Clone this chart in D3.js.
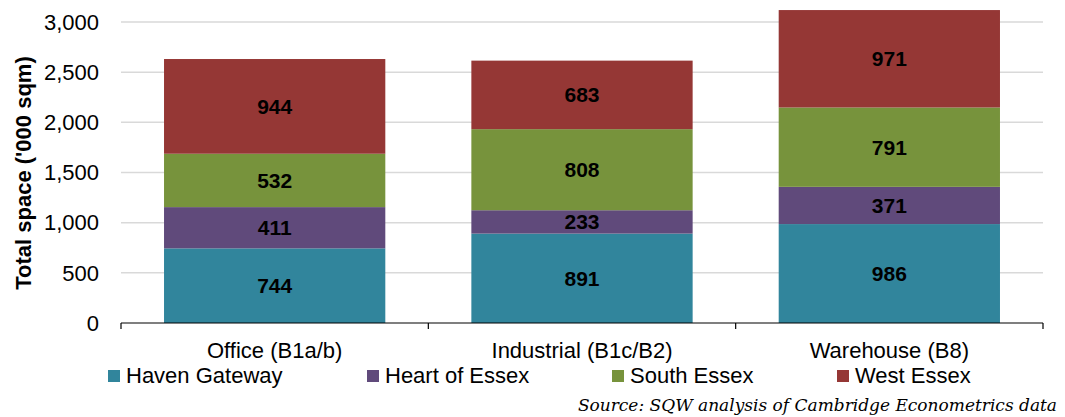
<!DOCTYPE html>
<html><head><meta charset="utf-8">
<script src="https://cdn.jsdelivr.net/npm/d3@7"></script>
<style>body{margin:0;background:#fff}</style>
</head><body><svg id="c" width="1065" height="417"></svg>
<script>
const categories = ["Office (B1a/b)", "Industrial (B1c/B2)", "Warehouse (B8)"];
const seriesNames = ["Haven Gateway", "Heart of Essex", "South Essex", "West Essex"];
const havenGateway = [744, 891, 986];
const heartOfEssex = [411, 233, 371];
const southEssex = [532, 808, 791];
const westEssex = [944, 683, 971];
const yTicks = [0, 500, 1000, 1500, 2000, 2500, 3000];
const colors = ["#31859C", "#604A7B", "#77933C", "#953735"];

(function () {
const seriesValues = [havenGateway, heartOfEssex, southEssex, westEssex];
const rows = categories.map((c, i) => {
  const r = {cat: c};
  seriesNames.forEach((s, j) => r[s] = seriesValues[j][i]);
  return r;
});
const stacked = d3.stack().keys(seriesNames)(rows);

const svg = d3.select("#c");
const mLeft = 121, mRight = 1043, mTop = 22, mBottom = 323;
const x = d3.scaleBand().domain(categories).range([mLeft, mRight]).padding(0);
const y = d3.scaleLinear().domain([0, 3000]).range([mBottom, mTop]);
const font = "'Liberation Sans', Arial, sans-serif";
const fs = 22;

// gridlines
svg.append("g").selectAll("line").data(yTicks.filter(d => d > 0)).join("line")
  .attr("x1", mLeft).attr("x2", mRight)
  .attr("y1", d => y(d)).attr("y2", d => y(d))
  .attr("stroke", "#d9d9d9").attr("stroke-width", 1.5);

// y tick labels
svg.append("g").selectAll("text").data(yTicks).join("text")
  .attr("x", 99).attr("y", d => y(d)).attr("dy", "0.35em")
  .attr("text-anchor", "end").attr("font-family", font).attr("font-size", fs)
  .attr("fill", "#000").text(d => d3.format(",")(d));

// y axis title
svg.append("text")
  .attr("transform", `translate(31,173) rotate(-90)`)
  .attr("text-anchor", "middle").attr("font-family", font).attr("font-size", fs)
  .attr("font-weight", "bold").text("Total space ('000 sqm)");

// bars
const bw = x.bandwidth() * 0.72;
const off = (x.bandwidth() - bw) / 2;
const layers = svg.append("g").selectAll("g").data(stacked).join("g")
  .attr("fill", (d, i) => colors[i]);
layers.selectAll("rect").data(d => d).join("rect")
  .attr("x", d => x(d.data.cat) + off).attr("width", bw)
  .attr("y", d => y(d[1])).attr("height", d => y(d[0]) - y(d[1]));
layers.selectAll("text").data(d => d.map(v => ({v, key: d.key}))).join("text")
  .attr("x", d => x(d.v.data.cat) + x.bandwidth() / 2)
  .attr("y", d => (y(d.v[0]) + y(d.v[1])) / 2).attr("dy", "0.35em")
  .attr("text-anchor", "middle").attr("font-family", font).attr("font-size", 21)
  .attr("font-weight", "bold").attr("fill", "#000")
  .text(d => d.v.data[d.key]);

// x axis
const xa = svg.append("g");
xa.append("line").attr("x1", mLeft).attr("x2", mRight).attr("y1", mBottom).attr("y2", mBottom)
  .attr("stroke", "#000").attr("stroke-width", 1.2);
const tickPos = categories.map(c => x(c)).concat([mRight]);
xa.selectAll("line.t").data(tickPos).join("line").attr("class", "t")
  .attr("x1", d => d).attr("x2", d => d).attr("y1", mBottom).attr("y2", mBottom + 6)
  .attr("stroke", "#000").attr("stroke-width", 1.2);
xa.selectAll("text").data(categories).join("text")
  .attr("x", d => x(d) + x.bandwidth() / 2).attr("y", 358)
  .attr("text-anchor", "middle").attr("font-family", font).attr("font-size", fs)
  .text(d => d);

// legend
const legX = [108, 367, 612, 837];
const leg = svg.append("g").selectAll("g").data(seriesNames).join("g")
  .attr("transform", (d, i) => `translate(${legX[i]},370)`);
leg.append("rect").attr("x", 0).attr("y", 0).attr("width", 12).attr("height", 12)
  .attr("fill", (d, i) => colors[i]);
leg.append("text").attr("x", 18).attr("y", 13)
  .attr("font-family", font).attr("font-size", fs).text(d => d);

// source
svg.append("text").attr("x", 1057).attr("y", 411)
  .attr("text-anchor", "end").attr("font-family", "'DejaVu Serif', 'Liberation Serif', serif")
  .attr("font-style", "italic").attr("font-size", 17)
  .text("Source: SQW analysis of Cambridge Econometrics data");
})();
</script></body></html>
